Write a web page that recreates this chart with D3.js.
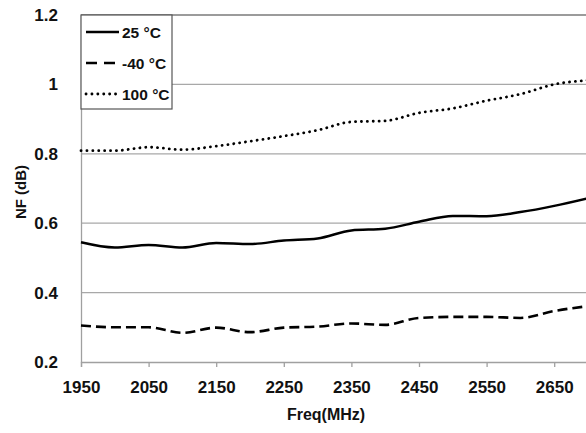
<!DOCTYPE html>
<html><head><meta charset="utf-8">
<script src="https://cdn.jsdelivr.net/npm/d3@7"></script>
<style>
html,body{margin:0;padding:0;background:#fff;}
text{font-family:"Liberation Sans",Arial,sans-serif;font-weight:bold;fill:#111;}
</style></head>
<body><svg id="c" width="586" height="433"></svg>
<script>
const freqs = [1950,2000,2050,2100,2150,2200,2250,2300,2350,2400,2450,2500,2550,2600,2650,2700];
const nf25 = [0.545,0.530,0.537,0.530,0.543,0.540,0.550,0.556,0.579,0.584,0.604,0.621,0.620,0.632,0.650,0.672];
const nfMinus40 = [0.305,0.300,0.300,0.284,0.299,0.286,0.299,0.302,0.311,0.307,0.327,0.330,0.330,0.327,0.347,0.361];
const nf100 = [0.809,0.809,0.819,0.812,0.822,0.836,0.851,0.868,0.892,0.895,0.918,0.931,0.953,0.972,1.000,1.012];
const xTicks = [1950,2050,2150,2250,2350,2450,2550,2650];
const yTicks = [0.2,0.4,0.6,0.8,1.0,1.2];
const seriesNames = ["25 °C","-40 °C","100 °C"];

const FONT = '"Liberation Sans",Arial,sans-serif';
const svg = d3.select("#c");
const L = 81, T = 15, B = 362, R = 588;
const x = d3.scaleLinear().domain([1950,2700]).range([L,R]);
const y = d3.scaleLinear().domain([0.2,1.2]).range([B,T]);

// gridlines
svg.append("g").selectAll("line").data(yTicks.slice(1)).join("line")
  .attr("x1",L).attr("x2",586).attr("y1",d=>y(d)).attr("y2",d=>y(d))
  .attr("stroke",d=>d===1.2?"#7a7a7a":"#a8a8a8").attr("stroke-width",1.3);

// axes
const xa = svg.append("g").attr("transform",`translate(0,${B})`)
  .call(d3.axisBottom(x).tickValues(xTicks).tickSize(5).tickPadding(14).tickFormat(d3.format("d")));
xa.attr("font-family",FONT).attr("font-size",17).attr("font-weight","bold");
xa.select(".domain").attr("stroke","#a0a0a0").attr("stroke-width",1.3);
xa.selectAll(".tick line").attr("stroke","#a0a0a0").attr("stroke-width",1.3);
xa.selectAll("text").attr("fill","#111");
const ya = svg.append("g").attr("transform",`translate(${L},0)`)
  .call(d3.axisLeft(y).tickValues(yTicks).tickSize(0).tickPadding(23).tickFormat(d=>d===1?"1":d3.format(".1f")(d)));
ya.attr("font-family",FONT).attr("font-size",17).attr("font-weight","bold");
ya.select(".domain").attr("stroke","#a0a0a0").attr("stroke-width",1.3);
ya.selectAll("text").attr("fill","#111");

// lines
const line = d3.line().x((d,i)=>x(freqs[i])).y(d=>y(d)).curve(d3.curveMonotoneX);
const styles = [
  {data:nf25, dash:null, cap:"butt", w:2.5},
  {data:nfMinus40, dash:"10,5", cap:"butt", w:2.6},
  {data:nf100, dash:"0.1,5.8", cap:"round", w:2.8}
];
styles.forEach(s=>{
  svg.append("path").datum(s.data).attr("d",line).attr("fill","none")
    .attr("stroke","#000").attr("stroke-width",s.w)
    .attr("stroke-dasharray",s.dash).attr("stroke-linecap",s.cap);
});

// legend
const lg = svg.append("g");
lg.append("rect").attr("x",L).attr("y",T).attr("width",91).attr("height",94)
  .attr("fill","#fff").attr("stroke","#555").attr("stroke-width",1.2);
const legDash = [null,"11,7","0.1,5.8"];
seriesNames.forEach((n,i)=>{
  const yy = T + 17 + i*31;
  const s = styles[i];
  lg.append("line").attr("x1",L+5).attr("x2",L+38).attr("y1",yy).attr("y2",yy)
    .attr("stroke","#000").attr("stroke-width",s.w).attr("stroke-dasharray",legDash[i]).attr("stroke-linecap",s.cap);
  lg.append("text").attr("x",L+41).attr("y",yy+5.5).attr("font-size",15.5).text(n);
});

// axis titles
svg.append("text").attr("x",326).attr("y",420).attr("text-anchor","middle").attr("font-size",16).text("Freq(MHz)");
svg.append("text").attr("transform","translate(26,192) rotate(-90)").attr("text-anchor","middle").attr("font-size",15).text("NF (dB)");
</script></body></html>
